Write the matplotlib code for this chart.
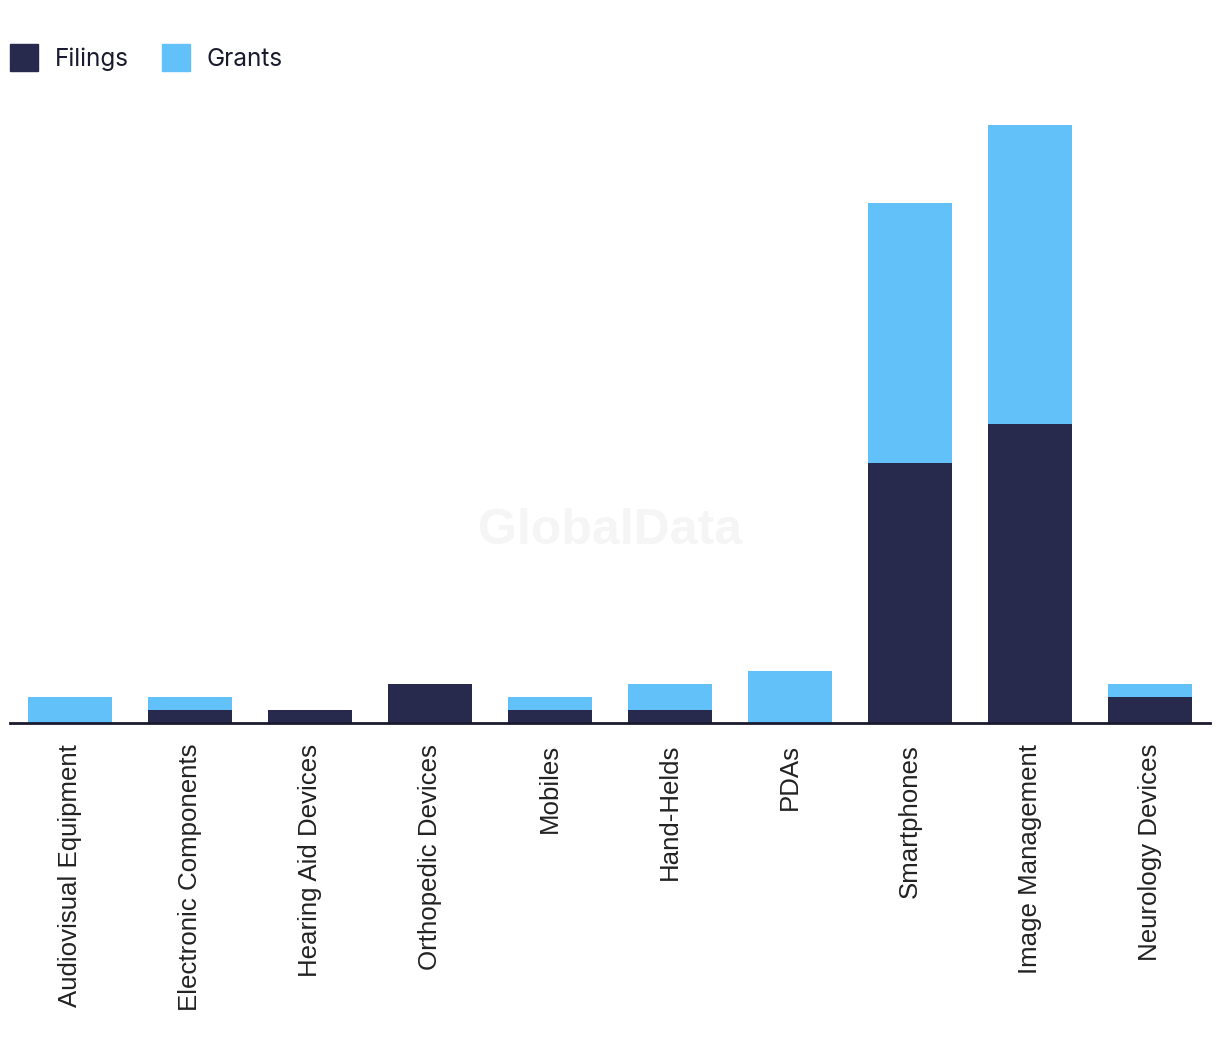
import matplotlib.pyplot as plt
from matplotlib.patches import Patch

categories = ["Audiovisual Equipment", "Electronic Components", "Hearing Aid Devices",
              "Orthopedic Devices", "Mobiles", "Hand-Helds", "PDAs", "Smartphones",
              "Image Management", "Neurology Devices"]
filings = [0, 1, 1, 3, 1, 1, 0, 20, 23, 2]
grants = [2, 1, 0, 0, 1, 2, 4, 20, 23, 1]

navy = "#272a4c"
blue = "#62c1f9"

W, H = 1220, 1060
fig = plt.figure(figsize=(W / 100, H / 100), dpi=100)
ax = fig.add_axes([10 / W, (H - 723) / H, 1200 / W, 623 / H])

x = range(len(categories))
ax.bar(x, filings, width=0.7, color=navy, zorder=2)
ax.bar(x, grants, width=0.7, bottom=filings, color=blue, zorder=2)

ax.set_xlim(-0.5, len(categories) - 0.5)
ax.set_ylim(0, 623 / 13.0)

for s in ["top", "right", "left"]:
    ax.spines[s].set_visible(False)
ax.spines["bottom"].set_color("#1a1a2e")
ax.spines["bottom"].set_linewidth(2)
ax.spines["bottom"].set_zorder(3)
ax.set_yticks([])
ax.set_xticks(list(x))
ax.set_xticklabels(categories, rotation=90, fontsize=18.6, family="Liberation Sans",
                   color="#222222")
ax.tick_params(axis="x", length=0, pad=15)

ax.text(0.5, 0.308, "GlobalData", transform=ax.transAxes, ha="center", va="center",
        fontsize=36, fontweight="bold", family="Liberation Sans", color="#f5f5f5",
        zorder=1)

handles = [Patch(color=navy, label="Filings"), Patch(color=blue, label="Grants")]
fig.legend(handles=handles, loc="upper left", bbox_to_anchor=(10 / W, 1 - 44 / H),
           ncol=2, frameon=False, prop={"family": "Inter", "size": 17.5},
           handlelength=1.15, handleheight=1.35, handletextpad=0.7,
           columnspacing=1.36, borderpad=0, borderaxespad=0, labelcolor="#1a1a2e")

fig.savefig("out.png", dpi=100, facecolor="white")
